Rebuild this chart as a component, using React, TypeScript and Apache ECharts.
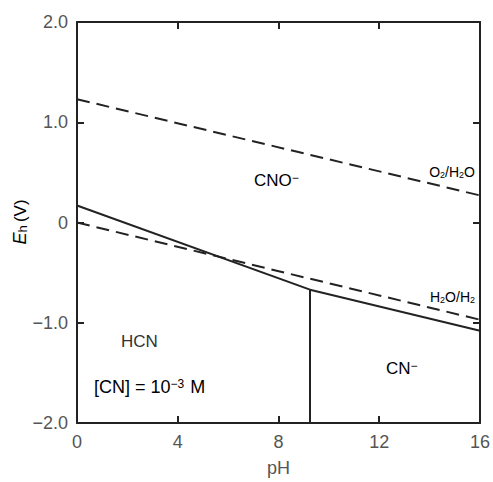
import React, { useEffect, useRef } from "react";
import * as echarts from "echarts";

const xTicks = [0, 4, 8, 12, 16];
const yTicks = [-2, -1, 0, 1, 2];
const o2h2o: [number, number][] = [[0, 1.23], [16, 0.27]];
const h2oh2: [number, number][] = [[0, 0], [16, -0.97]];
const hcnCno: [number, number][] = [[0, 0.17], [9.25, -0.67]];
const cnCno: [number, number][] = [[9.25, -0.67], [16, -1.08]];
const hcnCn: [number, number][] = [[9.25, -0.67], [9.25, -2]];

const FONT = "Liberation Sans, Arial, Helvetica, sans-serif";
const INK = "#222";

export default function App() {
  const ref = useRef<HTMLDivElement>(null);
  useEffect(() => {
    if (!ref.current) return;
    const chart = echarts.init(ref.current, undefined, { renderer: "svg" });
    const axisLine = { show: true, onZero: false, lineStyle: { color: INK, width: 2 } };
    const tick = { show: true, inside: true, length: 7, lineStyle: { color: INK, width: 2 } };
    const solid = (data: [number, number][]) => ({
      type: "line", data, symbol: "none", lineStyle: { color: INK, width: 2 }, silent: true,
    });
    const dashed = (data: [number, number][]) => ({
      type: "line", data, symbol: "none",
      lineStyle: { color: INK, width: 2, type: [13, 7] }, silent: true,
    });
    const sub = { fontSize: 9, fontFamily: FONT, color: "#666", verticalAlign: "bottom", lineHeight: 9, padding: [7, 0, 0, 0] };
    const norm = { fontSize: 14, fontFamily: FONT, color: "#666" };
    const sup = { fontSize: 12, color: "#333", fontFamily: FONT, verticalAlign: "top", lineHeight: 12, padding: [0, 0, 8, 0] };
    chart.setOption({
      animation: false,
      textStyle: { fontFamily: FONT },
      grid: { left: 77, right: 12, top: 22, bottom: 59 },
      xAxis: [
        {
          type: "value", min: 0, max: 16, interval: 4,
          axisLine, axisTick: tick, splitLine: { show: false },
          axisLabel: { fontSize: 18, color: "#555", margin: 10, fontFamily: FONT,
            formatter: (v: number) => (xTicks.includes(v) ? String(v) : "") },
          name: "pH", nameLocation: "middle", nameGap: 36,
          nameTextStyle: { fontSize: 18, color: "#555", fontFamily: FONT },
        },
        {
          type: "value", min: 0, max: 16, interval: 4, position: "top",
          axisLine, axisTick: tick, axisLabel: { show: false }, splitLine: { show: false },
        },
      ],
      yAxis: [
        {
          type: "value", min: -2, max: 2, interval: 1,
          axisLine, axisTick: tick, splitLine: { show: false },
          axisLabel: { fontSize: 18, color: "#555", margin: 9, fontFamily: FONT,
            formatter: (v: number) => {
              if (!yTicks.includes(v)) return "";
              if (v === 0) return "0";
              return (v < 0 ? "\u2212" : "") + Math.abs(v).toFixed(1);
            } },
        },
        {
          type: "value", min: -2, max: 2, interval: 1, position: "right",
          axisLine, axisTick: tick, axisLabel: { show: false }, splitLine: { show: false },
        },
      ],
      series: [
        dashed(o2h2o),
        dashed(h2oh2),
        solid(hcnCno),
        solid(cnCno),
        solid(hcnCn),
      ],
      graphic: [
        {
          type: "text", x: 20, y: 222, rotation: Math.PI / 2, z: 10,
          style: {
            text: "{e|E}{h|h} {n|(V)}", align: "center", verticalAlign: "middle",
            rich: {
              e: { fontSize: 18, fontStyle: "italic", color: "#555", fontFamily: FONT },
              h: { fontSize: 13, color: "#555", fontFamily: FONT, verticalAlign: "bottom", lineHeight: 13, padding: [7, 0, 0, 0] },
              n: { fontSize: 17, color: "#555", fontFamily: FONT },
            },
          },
        },
        {
          type: "text", x: 254, y: 180, z: 10,
          style: { text: "{t|CNO}{s|\u2212}", verticalAlign: "middle",
            rich: { t: { fontSize: 17, color: "#333", fontFamily: FONT }, s: sup } },
        },
        {
          type: "text", x: 121, y: 341, z: 10,
          style: { text: "HCN", fontSize: 17, fill: "#333", fontFamily: FONT, verticalAlign: "middle" },
        },
        {
          type: "text", x: 386, y: 368, z: 10,
          style: { text: "{t|CN}{s|\u2212}", verticalAlign: "middle",
            rich: { t: { fontSize: 17, color: "#333", fontFamily: FONT }, s: sup } },
        },
        {
          type: "text", x: 94, y: 387, z: 10,
          style: { text: "{t|[CN] = 10}{s|\u22123}{t| M}", verticalAlign: "middle",
            rich: { t: { fontSize: 18, color: "#333", fontFamily: FONT },
              s: { fontSize: 12, color: "#333", fontFamily: FONT, verticalAlign: "top", lineHeight: 12, padding: [0, 1, 9, 0] } } },
        },
        {
          type: "text", x: 475, y: 172, z: 10,
          style: { text: "{n|O}{s|2}{n|/H}{s|2}{n|O}", align: "right", verticalAlign: "middle",
            rich: { n: norm, s: sub } },
        },
        {
          type: "text", x: 475, y: 297, z: 10,
          style: { text: "{n|H}{s|2}{n|O/H}{s|2}", align: "right", verticalAlign: "middle",
            rich: { n: norm, s: sub } },
        },
      ],
    });
    return () => chart.dispose();
  }, []);
  return <div ref={ref} style={{ width: 493, height: 482, position: "absolute", left: 0, top: 0 }} />;
}
